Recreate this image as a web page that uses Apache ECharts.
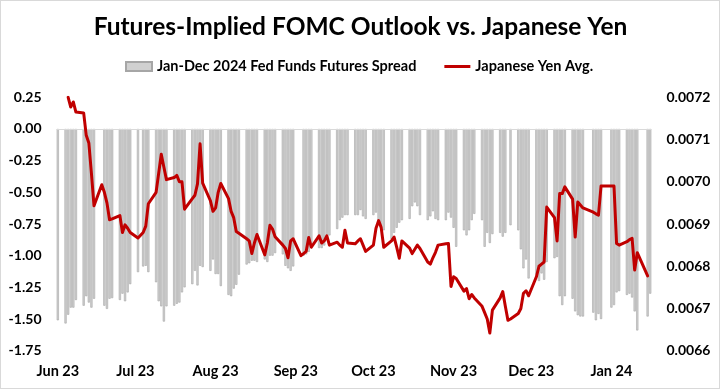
<!DOCTYPE html>
<html>
<head>
<meta charset="utf-8">
<script src="https://cdn.jsdelivr.net/npm/echarts@6/dist/echarts.min.js"></script>
<style>
  html, body { margin: 0; padding: 0; background: #fff; }
  #chart { position: absolute; left: 0; top: 0; width: 721px; height: 390px; }
  #frame { position: absolute; left: 0; top: 0; width: 720px; height: 389px; box-sizing: border-box; border: 1px solid #d9d9d9; pointer-events: none; }
</style>
</head>
<body>
<div id="chart"></div>
<div id="frame"></div>
<script>
// ---- DATA ----
const chartTitle = 'Futures-Implied FOMC Outlook vs. Japanese Yen';
const seriesNames = ['Jan-Dec 2024 Fed Funds Futures Spread', 'Japanese Yen Avg.'];
const startDate = '2023-06-02';
const endDate = '2024-01-17';
const monthNames = ['Jan','Feb','Mar','Apr','May','Jun','Jul','Aug','Sep','Oct','Nov','Dec'];

// Monday of every week shown
const weekStarts = [
  '2023-05-29','2023-06-05','2023-06-12','2023-06-19','2023-06-26','2023-07-03','2023-07-10',
  '2023-07-17','2023-07-24','2023-07-31','2023-08-07','2023-08-14','2023-08-21','2023-08-28',
  '2023-09-04','2023-09-11','2023-09-18','2023-09-25','2023-10-02','2023-10-09','2023-10-16',
  '2023-10-23','2023-10-30','2023-11-06','2023-11-13','2023-11-20','2023-11-27','2023-12-04',
  '2023-12-11','2023-12-18','2023-12-25','2024-01-01','2024-01-08','2024-01-15'
];

// Fed funds futures spread, Mon..Fri of each week (null = no print)
const spread = [
  null, null, null, null, -1.51,
  -1.535, -1.466, -1.41, -1.41, -1.35,
  -1.395, -1.32, -1.37, -1.41, -1.34,
  null, -1.395, -1.42, -1.34, -1.335,
  -1.35, -1.30, -1.36, -1.29, -1.225,
  -1.13, null, -1.085, -1.08, -1.13,
  -1.21, -1.36, -1.40, -1.52, -1.40,
  -1.395, -1.38, -1.37, -1.29, -1.25,
  -1.225, -1.12, -1.235, -1.08, -1.09,
  -1.12, -1.03, -1.145, -1.145, -1.24,
  -1.31, -1.32, -1.26, -1.23, -1.15,
  -1.07, -1.06, -1.04, -1.04, -1.05,
  -1.03, -1.05, -1.00, -1.00, -0.98,
  -0.99, -1.08, -1.10, -1.12, -1.085,
  null, -1.00, -0.99, -0.97, -0.93,
  -0.94, -0.94, -0.92, -0.85, -0.84,
  -0.79, -0.72, -0.70, -0.68, -0.68,
  -0.68, -0.68, -0.64, -0.69, -0.71,
  -0.68, -0.66, -0.74, -0.77, -0.80,
  -0.87, -0.82, -0.78, -0.74, -0.72,
  -0.71, -0.61, -0.58, -0.61, -0.68,
  -0.72, -0.69, -0.65, -0.71, -0.72,
  -0.72, -0.66, -0.70, -0.78, -0.93,
  -0.80, -0.84, -0.80, -0.72, -0.67,
  -0.72, -0.93, -0.82, -0.90, -0.83,
  -0.82, -0.85, -0.82, null, -0.76,
  -0.80, -0.95, -1.10, -1.03, -1.18,
  -1.15, -1.20, -1.14, -1.19, -1.05,
  -1.02, -1.01, -1.32, -1.39, -1.32,
  -1.34, -1.44, -1.47, -1.48, -1.48,
  null, -1.45, -1.51, -1.46, -1.50,
  null, -1.41, -1.39, -1.29, -1.28,
  -1.31, -1.30, -1.33, -1.44, -1.59,
  null, -1.48, -1.30, null, null
];

// Japanese yen (USD per JPY), Mon..Fri of each week
const yen = [
  null, null, null, null, null,
  null, 0.007200, 0.007177, 0.007189, 0.007165,
  0.007163, 0.007110, 0.007092, 0.007020, 0.006943,
  0.006993, 0.006975, 0.006950, 0.006910, 0.006912,
  0.006920, 0.006880, 0.006898, 0.006890, 0.006880,
  0.006867, null, 0.006880, 0.006895, 0.006948,
  0.006975, 0.007020, 0.007065, 0.007035, 0.007005,
  0.007010, 0.007015, 0.007000, 0.007000, 0.006935,
  0.006960, 0.006968, 0.006995, 0.007090, 0.006997,
  0.006955, 0.006930, 0.006938, 0.006975, 0.006996,
  0.006960, 0.006930, 0.006915, 0.006882, 0.006878,
  0.006865, 0.006860, 0.006830, 0.006855, 0.006875,
  0.006827, 0.006855, 0.006897, 0.006888, 0.006870,
  0.006850, 0.006842, 0.006820, 0.006860, 0.006865,
  0.006825, 0.006830, 0.006835, 0.006868, 0.006845,
  0.006872, 0.006855, 0.006860, 0.006872, 0.006850,
  0.006857, 0.006850, 0.006845, 0.006885, 0.006855,
  0.006853, 0.006860, 0.006865, 0.006850, 0.006835,
  0.006850, 0.006890, 0.006908, 0.006892, 0.006845,
  0.006860, 0.006869, 0.006845, 0.006819, 0.006860,
  0.006843, 0.006830, 0.006840, 0.006850, 0.006842,
  0.006810, 0.006805, 0.006820, 0.006833, 0.006850,
  0.006853, 0.006854, 0.006752, 0.006775, 0.006771,
  0.006741, 0.006747, 0.006723, 0.006733, 0.006725,
  0.006705, 0.006690, 0.006675, 0.006642, 0.006696,
  0.006725, 0.006740, 0.006705, 0.006672, 0.006675,
  0.006688, 0.006700, 0.006736, 0.006742, 0.006730,
  0.006775, 0.006800, 0.006805, 0.006810, 0.006940,
  0.006915, 0.006860, 0.006972, 0.006972, 0.006988,
  0.006959, 0.006869, 0.006952, 0.006945, 0.006938,
  null, 0.006928, 0.006924, 0.006921, 0.006990,
  null, 0.006990, 0.006990, 0.006854, 0.006850,
  0.006858, 0.006863, 0.006866, 0.006791, 0.006832,
  null, 0.006777, null, null, null
];

// Axis scales
const leftAxis = { min: -1.75, max: 0.25, interval: 0.25 };
const rightAxis = { min: 0.0066, max: 0.0072, interval: 0.0001 };

// ---- build calendar-day categories (weekends left empty) ----
const days = [], barData = [], lineData = [];
weekStarts.forEach((ws, w) => {
  for (let k = 0; k < 7; k++) {
    const dt = new Date(ws + 'T00:00:00Z');
    dt.setUTCDate(dt.getUTCDate() + k);
    const s = dt.toISOString().slice(0, 10);
    if (s < startDate || s > endDate) continue;
    days.push(s);
    barData.push(k < 5 ? spread[w * 5 + k] : null);
    lineData.push(k < 5 ? yen[w * 5 + k] : null);
  }
});

const FONT = 'Lato';
const chart = echarts.init(document.getElementById('chart'), null, { renderer: 'canvas' });
chart.setOption({
  animation: false,
  backgroundColor: '#ffffff',
  textStyle: { fontFamily: FONT },
  title: {
    text: chartTitle,
    left: 'center',
    top: 10,
    textStyle: { fontFamily: FONT, fontSize: 24.5, fontWeight: 'bold', color: '#000' }
  },
  legend: {
    left: 120,
    top: 54,
    itemWidth: 26,
    itemHeight: 9,
    itemGap: 28,
    symbolKeepAspect: true,
    textStyle: { fontFamily: FONT, fontSize: 14.5, fontWeight: 'bold', color: '#000' },
    data: [
      { name: seriesNames[0], icon: 'rect' },
      { name: seriesNames[1], icon: 'path://M0,0H26V3H0Z', itemStyle: { color: '#c00000' } }
    ]
  },
  grid: { left: 56.5, right: 69.5, top: 97.3, bottom: 39.3, containLabel: false },
  xAxis: {
    type: 'category',
    data: days,
    boundaryGap: true,
    axisLine: { show: false },
    axisTick: { show: false },
    splitLine: { show: false },
    axisLabel: {
      interval: (i, v) => v.slice(8) === '02',
      formatter: v => monthNames[+v.slice(5, 7) - 1] + ' ' + v.slice(2, 4),
      fontFamily: FONT, fontSize: 14.5, fontWeight: 'bold', color: '#000', margin: 13
    }
  },
  yAxis: [
    {
      type: 'value', position: 'left',
      min: leftAxis.min, max: leftAxis.max, interval: leftAxis.interval,
      axisLine: { show: false }, axisTick: { show: false }, splitLine: { show: false },
      axisLabel: { formatter: v => v.toFixed(2), fontFamily: FONT, fontSize: 14, fontWeight: 'bold', color: '#000', margin: 15 }
    },
    {
      type: 'value', position: 'right',
      min: rightAxis.min, max: rightAxis.max, interval: rightAxis.interval,
      axisLine: { show: false }, axisTick: { show: false }, splitLine: { show: false },
      axisLabel: { formatter: v => v.toFixed(4), fontFamily: FONT, fontSize: 14, fontWeight: 'bold', color: '#000', margin: 15 }
    }
  ],
  series: [
    {
      name: seriesNames[0],
      type: 'bar',
      yAxisIndex: 0,
      data: barData,
      barWidth: 2.2,
      itemStyle: { color: '#d0d0d0', borderColor: '#a6a6a6', borderWidth: 0.6 },
      markLine: {
        silent: true, symbol: 'none', label: { show: false },
        lineStyle: { color: '#d9d9d9', width: 1, type: 'solid' },
        data: [{ yAxis: 0 }]
      }
    },
    {
      name: seriesNames[1],
      type: 'line',
      yAxisIndex: 1,
      data: lineData,
      connectNulls: true,
      symbol: 'none',
      z: 5,
      lineStyle: { color: '#c00000', width: 3, join: 'round', cap: 'round' },
      itemStyle: { color: '#c00000' }
    }
  ]
});
</script>
</body>
</html>
